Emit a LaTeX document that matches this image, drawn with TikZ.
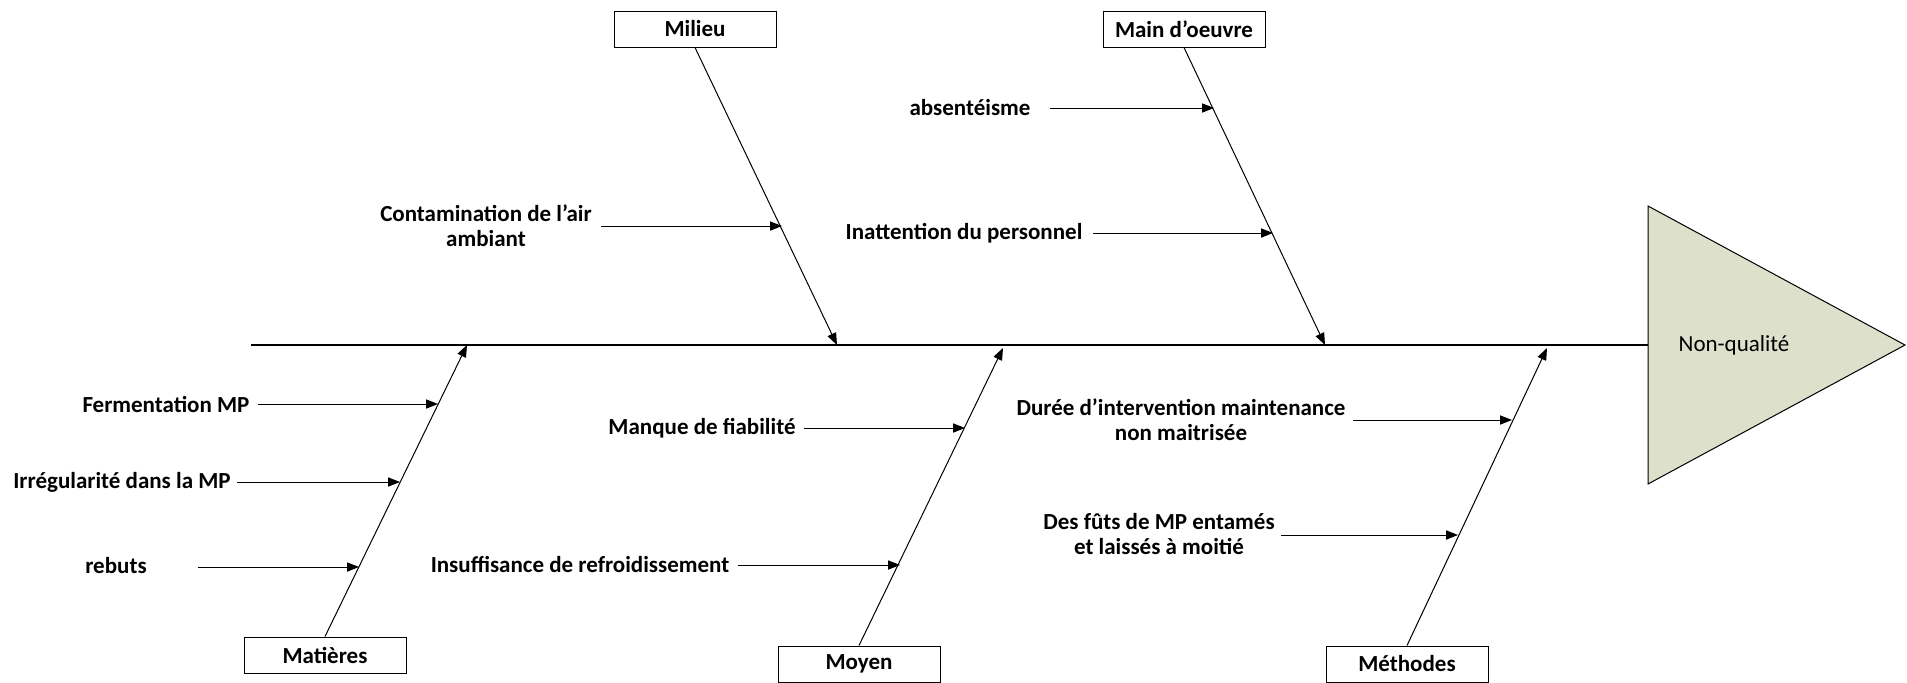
\documentclass[tikz,border=0pt]{standalone}
\usepackage{fontspec}
\setmainfont{Carlito}
\usetikzlibrary{arrows.meta}
\definecolor{headfill}{RGB}{221,225,203}
\begin{document}
\begin{tikzpicture}[x=0.5pt,y=-0.5pt,
  every node/.style={font=\fontsize{11.5}{12.4}\selectfont},
  catbox/.style={draw, line width=0.5pt, fill=white, minimum width=81pt,
    minimum height=18pt, inner sep=0pt, font=\fontsize{11.5}{12.4}\selectfont\bfseries},
  cause/.style={align=center, inner sep=0pt, font=\fontsize{11.5}{12.4}\selectfont\bfseries},
  bone/.style={line width=0.5pt, -{Triangle[length=6pt,width=4.6pt]}},
  twig/.style={line width=0.5pt, -{Triangle[length=6pt,width=4.6pt]}},
  spineline/.style={line width=1pt}]
\useasboundingbox (0,0) rectangle (1907,682);

% head of the fish
\draw[line width=0.5pt, fill=headfill] (1648,206) -- (1905,345) -- (1648,484) -- cycle;
\node (effet) at (1734,345) {Non-qualité};
\coordinate (spineL) at (251,345);
\coordinate (spineR) at (1648,345);
\draw[spineline] (spineL) -- (spineR);

% category boxes
\node[catbox] (milieu)   at (695,29)  {Milieu};
\node[catbox] (mainoeuv) at (1184,29) {Main d’oeuvre};
\node[catbox] (matieres) at (325,655) {Matières};
\node[catbox] (moyen)    at (859,664) {Moyen};
\node[catbox] (methodes) at (1407,664) {Méthodes};

% bone ends on the spine
\coordinate (tMil) at (837,345);
\coordinate (tMo)  at (1325,345);
\coordinate (tMat) at (467,345);
\coordinate (tMoy) at (1003,348);
\coordinate (tMet) at (1547,348);

\draw[bone] (milieu.south)   -- (tMil);
\draw[bone] (mainoeuv.south) -- (tMo);
\draw[bone] (matieres.north) -- (tMat);
\draw[bone] (moyen.north)    -- (tMoy);
\draw[bone] (methodes.north) -- (tMet);

% causes: Milieu
\node[cause] (c1) at (486,226) {Contamination de l’air\\ambiant};
\coordinate (c1s) at (601,226);  \coordinate (c1t) at (782,226);
\draw[twig] (c1s) -- (c1t);

% causes: Main d'oeuvre
\node[cause] (c2) at (970,108) {absentéisme};
\coordinate (c2s) at (1050,108); \coordinate (c2t) at (1214,108);
\draw[twig] (c2s) -- (c2t);
\node[cause] (c3) at (964,233) {Inattention du personnel};
\coordinate (c3s) at (1093,233); \coordinate (c3t) at (1273,233);
\draw[twig] (c3s) -- (c3t);

% causes: Matieres
\node[cause] (c4) at (166,404) {Fermentation MP};
\coordinate (c4s) at (258,404);  \coordinate (c4t) at (438,404);
\draw[twig] (c4s) -- (c4t);
\node[cause] (c5) at (122,482) {Irrégularité dans la MP};
\coordinate (c5s) at (237,482);  \coordinate (c5t) at (400,482);
\draw[twig] (c5s) -- (c5t);
\node[cause] (c6) at (116,566) {rebuts};
\coordinate (c6s) at (198,567);  \coordinate (c6t) at (359,567);
\draw[twig] (c6s) -- (c6t);

% causes: Moyen
\node[cause] (c7) at (702,428) {Manque de fiabilité};
\coordinate (c7s) at (804,428);  \coordinate (c7t) at (965,428);
\draw[twig] (c7s) -- (c7t);
\node[cause] (c8) at (580,564) {Insuffisance de refroidissement};
\coordinate (c8s) at (738,565);  \coordinate (c8t) at (900,565);
\draw[twig] (c8s) -- (c8t);

% causes: Methodes
\node[cause] (c9) at (1181,420) {Durée d’intervention maintenance\\non maitrisée};
\coordinate (c9s) at (1353,420); \coordinate (c9t) at (1512,420);
\draw[twig] (c9s) -- (c9t);
\node[cause] (c10) at (1159,534) {Des fûts de MP entamés\\et laissés à moitié};
\coordinate (c10s) at (1281,535); \coordinate (c10t) at (1458,535);
\draw[twig] (c10s) -- (c10t);
\end{tikzpicture}
\end{document}
